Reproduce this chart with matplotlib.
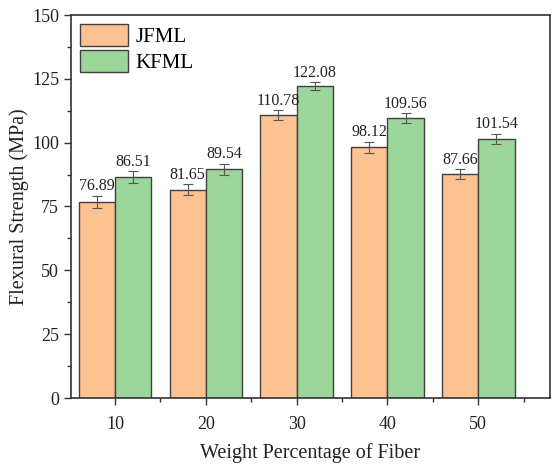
import matplotlib
matplotlib.use("Agg")
import matplotlib.pyplot as plt
import numpy as np
from matplotlib.ticker import MultipleLocator

weights = [10, 20, 30, 40, 50]
jfml = [76.89, 81.65, 110.78, 98.12, 87.66]
kfml = [86.51, 89.54, 122.08, 109.56, 101.54]
jfml_err = [2.4, 2.1, 2.0, 2.3, 1.9]
kfml_err = [2.3, 2.2, 1.6, 2.0, 1.9]
series_names = ["JFML", "KFML"]

plt.rcParams['font.family'] = ['Liberation Serif', 'DejaVu Serif']

fig = plt.figure(figsize=(5.52, 4.65), dpi=100)
ax = fig.add_axes([71/552, 1-398/465, (550-71)/552, (398-15)/465])

w = 4.0
x = np.array(weights, dtype=float)
c_or = "#FDC291"
c_gr = "#9DD69A"
ec = "#404040"
ekw = dict(ecolor="#555555", elinewidth=0.8, capsize=3.5, capthick=0.8)
ax.bar(x - w/2, jfml, w, color=c_or, edgecolor=ec, linewidth=1.0, label=series_names[0],
       yerr=jfml_err, error_kw=ekw)
ax.bar(x + w/2, kfml, w, color=c_gr, edgecolor=ec, linewidth=1.0, label=series_names[1],
       yerr=kfml_err, error_kw=ekw)

for xi, v, e in zip(x - w/2, jfml, jfml_err):
    ax.text(xi, v + e + 0.6, f"{v:.2f}", ha="center", va="bottom", fontsize=11.5, color="#222222")
for xi, v, e in zip(x + w/2, kfml, kfml_err):
    ax.text(xi, v + e + 0.6, f"{v:.2f}", ha="center", va="bottom", fontsize=11.5, color="#222222")

ax.set_xlim(5.15, 57.9)
ax.set_ylim(0, 150)
ax.set_xticks(weights)
ax.xaxis.set_minor_locator(MultipleLocator(5))
ax.yaxis.set_major_locator(MultipleLocator(25))
ax.yaxis.set_minor_locator(MultipleLocator(12.5))
ax.tick_params(axis='both', which='major', direction='out', length=5, width=1, labelsize=13, colors="#333333", labelcolor="#222222")
ax.tick_params(axis='x', which='major', pad=8)
ax.tick_params(axis='both', which='minor', direction='out', length=3, width=1, colors="#333333")
for s in ax.spines.values():
    s.set_linewidth(1.2)
    s.set_color("#333333")

ax.set_xlabel("Weight Percentage of Fiber", fontsize=14.5, color="#222222", labelpad=7)
ax.set_ylabel("Flexural Strength (MPa)", fontsize=14.5, color="#222222", labelpad=2)

ax.legend(loc="upper left", frameon=False, fontsize=15, handlelength=2.3, handleheight=1.25,
          borderaxespad=0.2, handletextpad=0.35, labelspacing=0.12, borderpad=0.25)

fig.savefig("out.png", dpi=100)
